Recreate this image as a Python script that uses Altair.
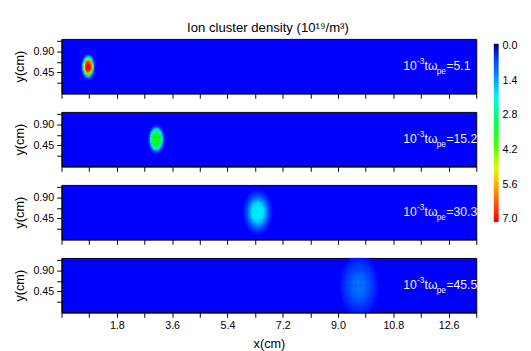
import altair as alt
import numpy as np
import pandas as pd

# ---- values ----
times = ["5.1", "15.2", "30.3", "45.5"]          # 10^-3 t w_pe per panel
blob_x = [0.86, 3.08, 6.38, 9.68]                # cluster centre x (cm)
blob_y = [0.57, 0.58, 0.58, 0.57]                # cluster centre y (cm)
blob_peak = [7.0, 3.4, 2.0, 1.0]                 # peak density (1e19/m^3)
blob_ax = [0.21, 0.25, 0.42, 0.50]               # visible half-extent in x (cm)
blob_ay = [0.26, 0.29, 0.42, 0.52]               # visible half-extent in y (cm)
blob_p = [2.0, 2.5, 1.8, 1.4]                    # flatness of the profile

x_domain = [0, 13.5]
y_domain = [0, 1.17]
x_ticks = [0, 0.9, 1.8, 2.7, 3.6, 4.5, 5.4, 6.3, 7.2, 8.1, 9.0, 9.9, 10.8, 11.7, 12.6, 13.5]
y_ticks = [0.225, 0.45, 0.675, 0.9, 1.125]
cbar_values = [0.0, 1.4, 2.8, 4.2, 5.6, 7.0]
cbar_ends = [-0.1, 7.1]
label_x = 11.12
label_y = 0.58

color_domain = [0, 0.05, 0.7, 1.4, 1.9, 2.6, 3.3, 4.2, 4.9, 5.6, 6.3, 7.0]
color_range = ["#000080", "#0000ff", "#0050ff", "#0a9bff", "#00f0ff", "#00ff90",
               "#00ff20", "#50ff00", "#e0ff00", "#ffb000", "#ff5000", "#ff0000"]

FONT = "Liberation Sans"
cell_dx = 0.04
cell_dy = 0.025
edge_level = 0.25


def blob_frame(i):
    xs = np.arange(max(x_domain[0], blob_x[i] - 1.6 * blob_ax[i]),
                   min(x_domain[1], blob_x[i] + 1.6 * blob_ax[i]), cell_dx)
    ys = np.arange(max(y_domain[0], blob_y[i] - 1.6 * blob_ay[i]),
                   min(y_domain[1], blob_y[i] + 1.6 * blob_ay[i]), cell_dy)
    X, Y = np.meshgrid(xs + cell_dx / 2, ys + cell_dy / 2)
    d = np.sqrt(((X - blob_x[i]) / blob_ax[i]) ** 2 + ((Y - blob_y[i]) / blob_ay[i]) ** 2)
    V = blob_peak[i] * np.exp(-np.log(blob_peak[i] / edge_level) * d ** (2 * blob_p[i]))
    df = pd.DataFrame({"x": X.ravel() - cell_dx / 2, "y": Y.ravel() - cell_dy / 2, "v": V.ravel()})
    df = df[df.v >= 0.05].copy()
    df["x2"] = np.minimum(df.x + cell_dx * 1.3, x_domain[1])
    df["y2"] = np.minimum(df.y + cell_dy * 1.3, y_domain[1])
    df["nv"] = -df.v          # negated so that 0 sits at the top of the vertical colour bar
    return df.sort_values("v")


# negated, piecewise colour scale; the ends stick out a little past 0 and 7
c_dom = [-cbar_ends[1]] + [-v for v in color_domain][::-1] + [-cbar_ends[0]]
c_rng = [color_range[-1]] + color_range[::-1] + [color_range[0]]

xscale = alt.Scale(domain=x_domain, nice=False, zero=False)
yscale = alt.Scale(domain=y_domain, nice=False, zero=False)
cscale = alt.Scale(domain=c_dom, range=c_rng, clamp=True)
legend = alt.Legend(title=None, values=[-v for v in cbar_values],
                    labelExpr="format(abs(datum.value), '.1f')", gradientLength=183,
                    gradientThickness=5, labelFontSize=11, labelFont=FONT,
                    labelColor="black", gradientStrokeWidth=0, offset=11, padding=5,
                    labelOffset=4, direction="vertical", orient="right")


def x_axis(bottom):
    if bottom:
        return alt.Axis(values=x_ticks, title="x(cm)", titlePadding=7,
                        labelExpr="(round(datum.value/0.9) % 2 == 0 && datum.value > 0) ? format(datum.value, '.1f') : ''")
    return alt.Axis(values=x_ticks, labels=False, title=None)


y_axis = alt.Axis(values=y_ticks, title="y(cm)", titlePadding=7,
                  labelExpr="(datum.value == 0.45 || datum.value == 0.9) ? format(datum.value, '.2f') : ''")


def panel(i):
    bottom = i == 3
    X = alt.X("x:Q", scale=xscale, axis=x_axis(bottom), title="x(cm)" if bottom else None)
    Y = alt.Y("y:Q", scale=yscale, axis=y_axis, title="y(cm)")
    heat = alt.Chart(blob_frame(i)).mark_rect(strokeWidth=0).encode(
        x=X, x2="x2:Q", y=Y, y2="y2:Q",
        color=alt.Color("nv:Q", scale=cscale, legend=legend),
    )
    lab = pd.DataFrame({"x": [label_x], "y": [label_y], "t": ["=" + times[i]]})
    base = alt.Chart(lab).encode(x=X, y=Y)
    txt = dict(align="left", baseline="middle", font=FONT, color="#f2f2f2")
    pieces = [
        base.mark_text(text="10", fontSize=12.5, **txt),
        base.mark_text(text="-3", fontSize=8.5, dx=14.2, dy=-5.5, **txt),
        base.mark_text(text="tω", fontSize=12.5, dx=22, **txt),
        base.mark_text(text="pe", fontSize=8.5, dx=34.5, dy=5, **txt),
        base.mark_text(fontSize=12.5, dx=44.5, **txt).encode(text="t:N"),
    ]
    return alt.layer(heat, *pieces).properties(width=426, height=56)


chart = alt.vconcat(*[panel(i) for i in range(4)], spacing=12).resolve_scale(
    color="shared").resolve_legend(color="shared").properties(
    padding={"top": 9, "left": 5, "right": 0, "bottom": 0},
    title=alt.TitleParams("Ion cluster density (10¹⁹/m³)", font=FONT, fontSize=13.5,
                          fontWeight="normal", anchor="middle", color="black", offset=4)
).configure_view(stroke="black", strokeWidth=1, fill="#0000ff").configure_axis(
    domainColor="black", tickColor="black", labelColor="black", labelFont=FONT,
    labelFontSize=11, titleFont=FONT, titleFontSize=13, titleFontWeight="normal",
    titleColor="black", tickSize=5, grid=False, labelPadding=3
)

chart.save("out.html", embed_options={"renderer": "svg", "actions": False})
